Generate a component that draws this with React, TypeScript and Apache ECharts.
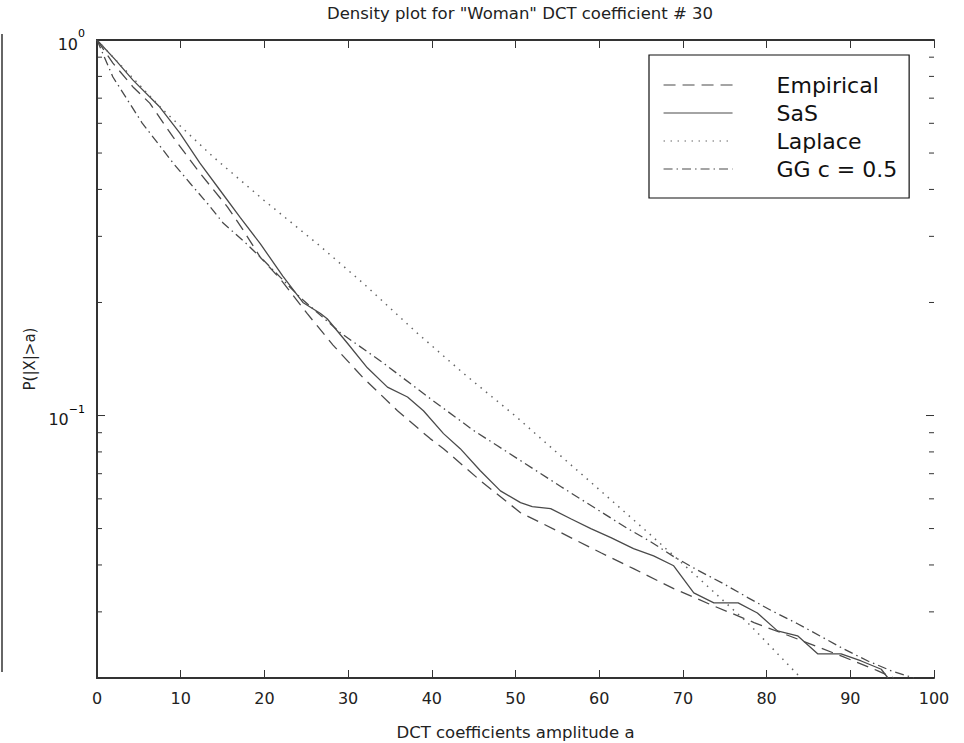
import React, { useEffect, useRef } from "react";
import * as echarts from "echarts";

const TITLE = 'Density plot for "Woman" DCT coefficient # 30';
const X_NAME = "DCT coefficients amplitude a";
const Y_NAME = "P(|X|>a)";
const X_MIN = 0;
const X_MAX = 100;
const X_INTERVAL = 10;
const Y_MIN = 0.02;
const Y_MAX = 1;
const Y_TICK_VALUES = [0.02, 0.03, 0.04, 0.05, 0.06, 0.07, 0.08, 0.09, 0.1, 0.2, 0.3, 0.4, 0.5, 0.6, 0.7, 0.8, 0.9, 1];

const SERIES_NAMES = ["Empirical", "SaS", "Laplace", "GG c = 0.5"];

const EMPIRICAL: [number, number][] = [
  [0, 1], [1.9, 0.868], [4.3, 0.75], [6.3, 0.679], [9.1, 0.551], [12.3, 0.442], [15.6, 0.359],
  [17.5, 0.311], [19.5, 0.264], [21.9, 0.231], [25.1, 0.187], [28.2, 0.154], [31.8, 0.126],
  [35.9, 0.103], [39.8, 0.0868], [41.4, 0.0816], [45.8, 0.0671], [50.6, 0.0551], [55.4, 0.0488],
  [60.2, 0.0431], [64.1, 0.0391], [68.9, 0.0346], [73.7, 0.0311], [78.5, 0.0281], [83.3, 0.0256],
  [88.9, 0.0229], [93.3, 0.0209], [95.2, 0.02],
];

const SAS: [number, number][] = [
  [0, 1], [2.2, 0.885], [4.3, 0.782], [7.5, 0.663], [9.9, 0.565], [12.3, 0.47], [14.7, 0.398],
  [17.1, 0.337], [19.5, 0.287], [22.2, 0.235], [24.6, 0.2], [26.7, 0.187], [27.5, 0.181],
  [29.9, 0.156], [32.3, 0.134], [34.7, 0.119], [37.1, 0.112], [39.0, 0.103], [41.4, 0.0895],
  [43.4, 0.0816], [45.8, 0.0713], [48.2, 0.063], [50.6, 0.0586], [52, 0.0572], [54.2, 0.0565],
  [56.6, 0.0531], [59, 0.05], [61.4, 0.0473], [64.1, 0.0442], [66.5, 0.0423], [68.9, 0.0398],
  [71.3, 0.0337], [73.7, 0.0317], [76.6, 0.0317], [78.9, 0.0298], [81.3, 0.0267], [83.7, 0.0259],
  [86.1, 0.0232], [88.9, 0.0232], [91.3, 0.0222], [93.7, 0.0211], [94.5, 0.02],
];

const LAPLACE: [number, number][] = [
  [0, 1], [1.9, 0.901], [7.9, 0.651], [13.9, 0.488], [19.9, 0.375], [26.3, 0.287], [31.8, 0.225],
  [38.3, 0.1655], [43.8, 0.1294], [50.2, 0.0988], [53.3, 0.0858], [60, 0.0635], [66, 0.0484],
  [72, 0.0367], [78, 0.0277], [84.1, 0.02],
];

const GG: [number, number][] = [
  [0, 1], [1.9, 0.797], [5.4, 0.601], [9.1, 0.47], [11.1, 0.416], [13.2, 0.367], [15.1, 0.325],
  [17.7, 0.289], [19.9, 0.259], [24.3, 0.206], [29.1, 0.166], [34.2, 0.138], [39.8, 0.111],
  [45, 0.0912], [47.8, 0.0832], [55.4, 0.0647], [63.4, 0.05], [66.1, 0.0462], [68.9, 0.0421],
  [71.8, 0.0387], [74.9, 0.0356], [77.8, 0.0327], [80.5, 0.0303], [83.7, 0.0279], [86.5, 0.0258],
  [89.2, 0.0239], [92.1, 0.0222], [94.9, 0.0209], [97.6, 0.02],
];

const FONT = "'DejaVu Sans', 'Liberation Sans', Arial, sans-serif";
const AXIS_COLOR = "#333";
const LINE_COLOR = "#4a4a4a";
const TEXT_COLOR = "#222";

function isPow10(v: number) {
  const l = Math.log10(v);
  return Math.abs(l - Math.round(l)) < 1e-6;
}

export default function App() {
  const ref = useRef<HTMLDivElement>(null);

  useEffect(() => {
    if (!ref.current) return;
    const chart = echarts.init(ref.current, undefined, { renderer: "svg" });

    const lineSeries = (name: string, data: [number, number][], type: any, color: string, width: number) => ({
      name,
      type: "line",
      data,
      showSymbol: false,
      symbol: "none",
      symbolSize: 0,
      smooth: false,
      xAxisIndex: 0,
      yAxisIndex: 0,
      lineStyle: { color, width, type },
      itemStyle: { color },
      z: 3,
    });

    const option: any = {
      animation: false,
      backgroundColor: "#fff",
      color: [LINE_COLOR, LINE_COLOR, "#666", LINE_COLOR, AXIS_COLOR],
      textStyle: { fontFamily: FONT, color: TEXT_COLOR },
      title: {
        text: TITLE,
        left: 515,
        top: 0,
        textAlign: "center",
        textStyle: { fontFamily: FONT, fontSize: 16.5, fontWeight: "normal", color: TEXT_COLOR },
      },
      grid: { left: 97, right: 30, top: 40, bottom: 65, containLabel: false, outerBoundsMode: "none" },
      legend: {
        data: SERIES_NAMES,
        orient: "vertical",
        left: 649,
        top: 55,
        itemWidth: 69,
        itemHeight: 22,
        itemGap: 6,
        padding: [19, 12, 18, 14],
        borderColor: "#111",
        borderWidth: 1.2,
        backgroundColor: "#fff",
        selectedMode: false,
        itemStyle: { opacity: 0, borderWidth: 0 },
        lineStyle: { width: 1.1 },
        textStyle: { fontFamily: FONT, fontSize: 22, color: "#111", lineHeight: 22, padding: [0, 0, 0, 39] },
      },
      xAxis: [
        {
          type: "value",
          position: "bottom",
          min: X_MIN,
          max: X_MAX,
          interval: X_INTERVAL,
          name: X_NAME,
          nameLocation: "middle",
          nameGap: 46,
          nameTextStyle: { fontFamily: FONT, fontSize: 16.5, color: TEXT_COLOR },
          axisLine: { show: true, lineStyle: { color: AXIS_COLOR, width: 2 } },
          axisTick: { show: true, inside: true, length: 8, lineStyle: { color: AXIS_COLOR, width: 1 } },
          axisLabel: { margin: 12, fontFamily: FONT, fontSize: 16, color: TEXT_COLOR },
          splitLine: { show: false },
        },
        {
          type: "value",
          position: "top",
          min: X_MIN,
          max: X_MAX,
          interval: X_INTERVAL,
          axisLine: { show: true, lineStyle: { color: AXIS_COLOR, width: 2 } },
          axisTick: { show: true, inside: true, length: 8, lineStyle: { color: AXIS_COLOR, width: 1 } },
          axisLabel: { show: false },
          splitLine: { show: false },
        },
      ],
      yAxis: [
        {
          type: "log",
          logBase: 10,
          position: "left",
          min: Y_MIN,
          max: Y_MAX,
          name: Y_NAME,
          nameLocation: "middle",
          nameGap: 57,
          nameRotate: 90,
          nameTextStyle: { fontFamily: FONT, fontSize: 15, color: TEXT_COLOR },
          axisLine: { show: true, lineStyle: { color: AXIS_COLOR, width: 2 } },
          axisTick: { show: false },
          axisLabel: {
            margin: 12,
            color: "#000",
            fontFamily: FONT,
            formatter: (v: number) => {
              if (!isPow10(v)) return "";
              const e = Math.round(Math.log10(v));
              const s = e < 0 ? "\u2212" + String(-e) : String(e);
              return "{base|10}{sup|" + s + "}";
            },
            rich: {
              base: { fontFamily: FONT, fontSize: 16, color: "#1a1a1a", verticalAlign: "bottom", lineHeight: 24 },
              sup: { fontFamily: FONT, fontSize: 11, color: "#000", verticalAlign: "top", lineHeight: 24, padding: [0, 0, 12, 0] },
            },
          },
          splitLine: { show: false },
        },
        {
          type: "log",
          logBase: 10,
          position: "right",
          min: Y_MIN,
          max: Y_MAX,
          axisLine: { show: true, lineStyle: { color: AXIS_COLOR, width: 2 } },
          axisTick: { show: false },
          axisLabel: { show: false },
          splitLine: { show: false },
        },
      ],
      graphic: [
        {
          type: "line",
          shape: { x1: 2, y1: 34, x2: 2, y2: 672 },
          style: { stroke: "#333", lineWidth: 1.5 },
        },
      ],
      series: [
        lineSeries(SERIES_NAMES[0], EMPIRICAL, [12, 7], LINE_COLOR, 1.3),
        lineSeries(SERIES_NAMES[1], SAS, "solid", LINE_COLOR, 1.3),
        lineSeries(SERIES_NAMES[2], LAPLACE, [1.5, 5.5], "#666", 1.5),
        lineSeries(SERIES_NAMES[3], GG, [9, 4, 1.5, 4], LINE_COLOR, 1.3),
        {
          type: "custom",
          name: "yticks",
          coordinateSystem: "cartesian2d",
          xAxisIndex: 0,
          yAxisIndex: 0,
          silent: true,
          clip: false,
          z: 4,
          itemStyle: { color: AXIS_COLOR },
          encode: { x: 0, y: 1 },
          data: Y_TICK_VALUES.map((v) => [X_MIN, v]),
          renderItem: (_params: any, api: any) => {
            const v = api.value(1);
            const len = isPow10(v) ? 8 : 5;
            const l = api.coord([X_MIN, v]);
            const r = api.coord([X_MAX, v]);
            const st = { stroke: AXIS_COLOR, lineWidth: 1 };
            return {
              type: "group",
              children: [
                { type: "line", shape: { x1: l[0], y1: l[1], x2: l[0] + len, y2: l[1] }, style: st },
                { type: "line", shape: { x1: r[0], y1: r[1], x2: r[0] - len, y2: r[1] }, style: st },
              ],
            };
          },
        },
      ],
    };

    chart.setOption(option);
    return () => chart.dispose();
  }, []);

  return (
    <div
      ref={ref}
      style={{ position: "absolute", left: 0, top: 0, width: 964, height: 743, background: "#fff" }}
    />
  );
}
